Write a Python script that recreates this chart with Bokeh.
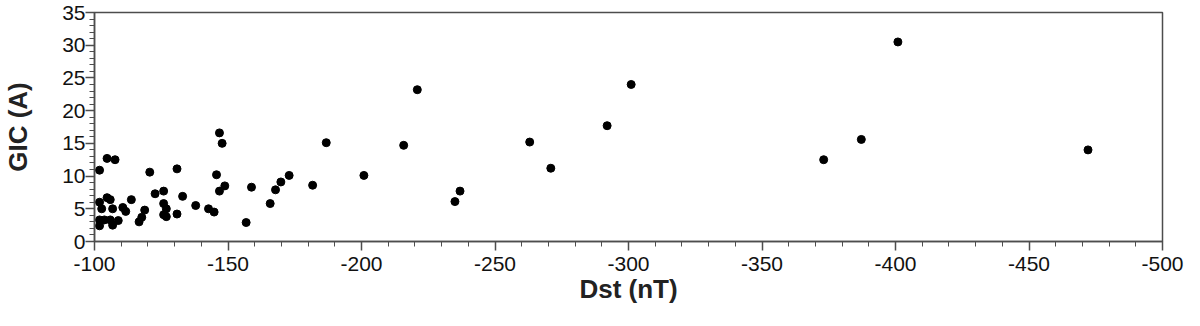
from bokeh.plotting import figure
from bokeh.models import Range1d, FixedTicker, ColumnDataSource, CustomJSTickFormatter
from bokeh.embed import file_html
from bokeh.resources import INLINE

# Data
dst = [-101.9, -101.9, -102.7, -101.9, -101.9, -103.7, -104.7, -104.7, -105.9, -105.9,
       -106.8, -106.8, -107.7, -108.9, -110.6, -111.7, -113.8, -116.7, -117.7, -118.8,
       -120.7, -122.7, -125.9, -125.9, -125.9, -126.9, -126.9, -130.9, -130.9, -133.0,
       -137.9, -142.7, -144.8, -145.7, -146.8, -147.8, -146.8, -148.8, -156.8, -158.8,
       -165.8, -167.8, -169.8, -172.9, -181.7, -186.8, -200.9, -215.8, -220.9, -235.0,
       -236.9, -263.0, -270.9, -292.0, -301.0, -373.1, -387.2, -400.9, -472.1]
gic = [10.9, 6.0, 5.0, 3.3, 2.4, 3.3, 12.7, 6.7, 6.4, 3.3,
       5.0, 2.5, 12.5, 3.2, 5.2, 4.6, 6.4, 3.0, 3.7, 4.8,
       10.6, 7.3, 7.7, 5.8, 4.1, 5.0, 3.8, 11.1, 4.2, 6.9,
       5.5, 5.0, 4.5, 10.2, 16.6, 15.0, 7.7, 8.5, 2.9, 8.3,
       5.8, 7.9, 9.1, 10.1, 8.6, 15.1, 10.1, 14.7, 23.2, 6.1,
       7.7, 15.2, 11.2, 17.7, 24.0, 12.5, 15.6, 30.5, 14.0]

x_ticks = [-100, -150, -200, -250, -300, -350, -400, -450, -500]
x_minor = list(range(-100, -501, -10))
y_ticks = [0, 5, 10, 15, 20, 25, 30, 35]
y_minor = list(range(0, 36))

source = ColumnDataSource(data=dict(dst=dst, gic=gic))

p = figure(width=1184, height=310, output_backend="svg", toolbar_location=None,
           x_range=Range1d(-100, -500), y_range=Range1d(0, 35),
           min_border_left=93, min_border_right=22, min_border_top=12, min_border_bottom=69)

p.scatter("dst", "gic", source=source, size=8, color="black")

axis_col = "#4d4d4d"
font = "Liberation Sans"

p.xgrid.visible = False
p.ygrid.visible = False
p.outline_line_color = axis_col
p.outline_line_width = 1.5
p.background_fill_color = "white"
p.border_fill_color = "white"

fmt = CustomJSTickFormatter(code="return String(Math.round(tick));")
p.xaxis.ticker = FixedTicker(ticks=x_ticks, minor_ticks=x_minor)
p.yaxis.ticker = FixedTicker(ticks=y_ticks, minor_ticks=y_minor)
p.xaxis.formatter = fmt
p.yaxis.formatter = fmt

p.xaxis.axis_label = "Dst (nT)"
p.yaxis.axis_label = "GIC (A)"

for ax in (p.xaxis, p.yaxis):
    ax.axis_line_color = axis_col
    ax.axis_line_width = 1.5
    ax.major_tick_line_color = axis_col
    ax.minor_tick_line_color = axis_col
    ax.major_tick_line_width = 1.5
    ax.minor_tick_line_width = 1
    ax.major_tick_out = 9
    ax.major_tick_in = 0
    ax.minor_tick_out = 5
    ax.minor_tick_in = 0
    ax.major_label_text_font = font
    ax.major_label_text_font_size = "21px"
    ax.major_label_text_color = "#111111"
    ax.axis_label_text_font = font
    ax.axis_label_text_font_style = "bold"
    ax.axis_label_text_font_size = "26px"
    ax.axis_label_text_color = "#222222"

p.xaxis.major_label_standoff = 6
p.xaxis.axis_label_standoff = 0
p.yaxis.major_label_standoff = 0
p.yaxis.axis_label_standoff = 26

open("out.html", "w").write(file_html(p, INLINE))
